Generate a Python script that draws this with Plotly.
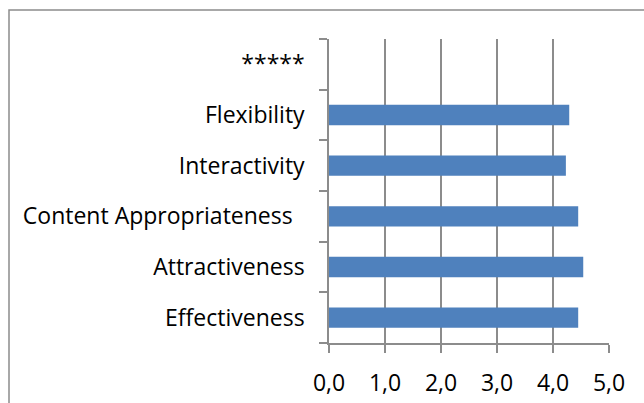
import plotly.graph_objects as go

categories = ["Effectiveness", "Attractiveness", "Content Appropriateness\u00a0\u00a0",
              "Interactivity", "Flexibility", "*****"]
values = [4.45, 4.54, 4.45, 4.23, 4.29, None]
x_ticks = [0, 1, 2, 3, 4, 5]
x_tick_labels = ["0,0", "1,0", "2,0", "3,0", "4,0", "5,0"]

W, H = 644, 403
L, R, T, B = 329, 35, 39, 60
pw, ph = W - L - R, H - T - B

grid = "#8c8c8c"
font = dict(family="Open Sans", size=23, color="#000000")

fig = go.Figure(go.Bar(
    y=categories, x=values, orientation="h",
    marker=dict(color="#4F81BD", line=dict(width=0)),
    width=0.4,
))

fig.update_layout(
    width=W, height=H,
    margin=dict(l=L, r=R, t=T, b=B, pad=0, autoexpand=False),
    paper_bgcolor="white", plot_bgcolor="white",
    showlegend=False,
    font=font,
    separators=",.",
    xaxis=dict(range=[0, 5], tickvals=x_ticks, ticktext=x_tick_labels,
               showgrid=True, gridcolor=grid, gridwidth=1.5,
               showline=True, linecolor=grid, linewidth=1.5,
               ticks="outside", ticklen=8, tickcolor=grid, tickwidth=1.5,
               zeroline=False, ticklabelstandoff=11, fixedrange=True,
               automargin=False),
    yaxis=dict(type="category", range=[-0.5, 5.5], tickson="boundaries",
               showgrid=False, showline=True, linecolor=grid, linewidth=1.5,
               ticks="outside", ticklen=8, tickcolor=grid, tickwidth=1.5,
               zeroline=False, ticklabelstandoff=18, fixedrange=True,
               automargin=False),
    shapes=[dict(type="rect", xref="paper", yref="paper",
                 x0=(9 - L) / pw, x1=1.5, y0=-0.5, y1=(H - B - 10) / ph,
                 line=dict(color=grid, width=1.5), fillcolor="rgba(0,0,0,0)",
                 layer="below")],
)

fig.write_html("out.html")
